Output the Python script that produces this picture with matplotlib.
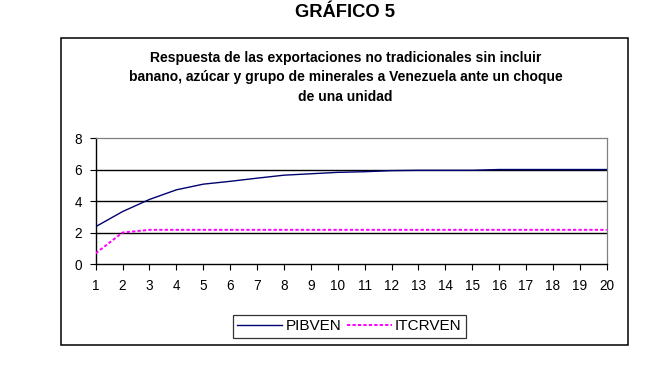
import matplotlib.pyplot as plt
from matplotlib.patches import Rectangle

plt.rcParams["font.family"] = ["Liberation Sans", "DejaVu Sans"]

# Data
periods = list(range(1, 21))
pibven = [2.37, 3.33, 4.1, 4.71, 5.07, 5.25, 5.45, 5.64, 5.73, 5.82,
          5.86, 5.93, 5.95, 5.95, 5.95, 6.0, 6.0, 6.0, 6.0, 6.0]
itcrven = [0.68, 2.0, 2.17, 2.17, 2.17, 2.17, 2.17, 2.17, 2.17, 2.17,
           2.17, 2.17, 2.17, 2.17, 2.17, 2.17, 2.17, 2.17, 2.17, 2.17]
y_ticks = [0, 2, 4, 6, 8]

title = "GRÁFICO 5"
subtitle = ("Respuesta de las exportaciones no tradicionales sin incluir\n"
            "banano, azúcar y grupo de minerales a Venezuela ante un choque\n"
            "de una unidad")

fig = plt.figure(figsize=(6.7, 3.89), dpi=100)

# Outer chart frame
fig.patches.append(Rectangle((0.091, 0.113), 0.846, 0.789, transform=fig.transFigure,
                             fill=False, edgecolor="black", linewidth=1.1))

fig.text(0.515, 0.968, title, ha="center", va="center", fontsize=13.2, fontweight="bold")
fig.text(0.516, 0.802, subtitle, ha="center", va="center", fontsize=10,
         fontweight="bold", linespacing=1.5)

ax = fig.add_axes([0.1428, 0.3213, 0.7627, 0.3239])
for y in [2, 4, 6]:
    ax.axhline(y, color="black", linewidth=1.0, zorder=1)

ax.plot(periods, pibven, color="#000070", linewidth=1.0, label="PIBVEN", zorder=3)
ax.plot(periods, itcrven, color="#FF00FF", linewidth=1.4, linestyle=(0, (1.7, 1.1)),
        label="ITCRVEN", zorder=3)

ax.set_xlim(1, 20)
ax.set_ylim(0, 8)
ax.set_xticks(periods)
ax.set_yticks(y_ticks)
ax.tick_params(labelsize=9.8, length=4, width=0.8, colors="black")
ax.tick_params(axis="x", pad=7)
ax.tick_params(axis="y", pad=6)
for side in ["top", "right"]:
    ax.spines[side].set_color("#808080")
    ax.spines[side].set_linewidth(0.9)
ax.spines["left"].set_linewidth(1.0)
ax.spines["bottom"].set_linewidth(1.0)

leg = fig.legend(loc="center", bbox_to_anchor=(0.5216, 0.161), ncol=2, fontsize=11,
                 frameon=True, fancybox=False, edgecolor="black", handlelength=2.95,
                 handletextpad=0.2, columnspacing=0.37, borderpad=0.3, borderaxespad=0)
leg.get_frame().set_linewidth(0.9)

fig.savefig("out.png", dpi=100)
